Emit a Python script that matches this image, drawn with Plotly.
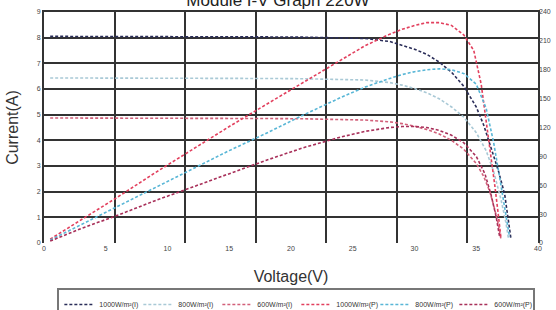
import plotly.graph_objects as go

# ---- data ----
title_text = "Module I-V Graph 220W"
x_ticks = [0, 5, 10, 15, 20, 25, 30, 35, 40]
grid_x = [0, 5, 10, 15, 20, 25, 30, 35]
i_ticks = [0, 1, 2, 3, 4, 5, 6, 7, 8, 9]
p_ticks = [0, 30, 60, 90, 120, 150, 180, 210, 240]

# I-V curves
v_i1000 = [0.5, 3, 6, 9, 12, 15, 18, 21, 24, 26, 28, 29, 30, 31, 32, 33, 34, 35, 35.6, 36.2, 36.8, 37.3, 37.6, 37.8]
i_1000 = [8.05, 8.05, 8.05, 8.05, 8.04, 8.04, 8.03, 8.02, 8.0, 7.97, 7.85, 7.7, 7.55, 7.35, 7.05, 6.65, 6.1, 5.3, 4.6, 3.7, 2.8, 1.9, 0.9, 0.2]
v_i800 = [0.5, 3, 6, 9, 12, 15, 18, 21, 24, 26, 28, 29, 30, 31, 32, 33, 34, 35, 35.8, 36.4, 37.0, 37.4, 37.6]
i_800 = [6.43, 6.43, 6.43, 6.43, 6.42, 6.42, 6.41, 6.40, 6.38, 6.35, 6.25, 6.15, 6.02, 5.85, 5.62, 5.3, 4.9, 4.3, 3.6, 2.8, 1.7, 0.8, 0.2]
v_i600 = [0.5, 3, 6, 9, 12, 15, 18, 21, 24, 26, 28, 29, 30, 31, 32, 33, 34, 35, 35.6, 36.1, 36.5, 36.8, 37.0]
i_600 = [4.87, 4.87, 4.87, 4.87, 4.86, 4.86, 4.85, 4.84, 4.82, 4.79, 4.72, 4.65, 4.55, 4.42, 4.25, 4.0, 3.65, 3.1, 2.6, 2.0, 1.3, 0.7, 0.15]

# P-V curves
v_p1000 = [0.5, 3, 6, 9, 12, 15, 18, 21, 24, 26, 28, 29, 30, 31, 32, 33, 34, 34.8, 35.4, 35.8, 36.2, 36.5, 36.8, 37.0]
p_1000 = [4, 24, 48, 73, 97, 121, 144, 167, 190, 205, 217, 222, 226, 229, 229, 226, 216, 200, 165, 128, 90, 60, 28, 5]
v_p800 = [0.5, 3, 6, 9, 12, 15, 18, 21, 24, 26, 28, 29, 30, 31, 32, 33, 34, 35, 35.8, 36.4, 37.0, 37.4, 37.7]
p_800 = [3, 19, 38, 57, 77, 96, 114, 133, 151, 162, 171, 175, 178, 180, 181, 180, 176, 165, 140, 105, 60, 30, 6]
v_p600 = [0.5, 3, 6, 9, 12, 15, 18, 21, 24, 26, 28, 29, 30, 31, 32, 33, 34, 35, 35.7, 36.2, 36.6, 36.9]
p_600 = [2, 15, 29, 44, 58, 72, 86, 99, 110, 116, 120, 121, 121, 120, 117, 112, 104, 90, 72, 50, 28, 6]

names = ["1000W/m²(I)", "800W/m²(I)", "600W/m²(I)",
         "1000W/m²(P)", "800W/m²(P)", "600W/m²(P)"]
colors = ["#2a2d58", "#a9c9d6", "#d2607a", "#e2405e", "#58b6d6", "#a8305a"]

GRID = "#333333"
FONT = "Liberation Sans, Arial, sans-serif"

fig = go.Figure()
dash = "3px,2px"
for vx, vy, nm, col in [(v_i1000, i_1000, names[0], colors[0]),
                        (v_i800, i_800, names[1], colors[1]),
                        (v_i600, i_600, names[2], colors[2])]:
    fig.add_trace(go.Scatter(x=vx, y=vy, name=nm, mode="lines",
                             line=dict(color=col, width=1.6, dash=dash),
                             xaxis="x", yaxis="y"))
for vx, vy, nm, col in [(v_p1000, p_1000, names[3], colors[3]),
                        (v_p800, p_800, names[4], colors[4]),
                        (v_p600, p_600, names[5], colors[5])]:
    fig.add_trace(go.Scatter(x=vx, y=vy, name=nm, mode="lines",
                             line=dict(color=col, width=1.6, dash=dash),
                             xaxis="x", yaxis="y2"))
# grid-only subplot
fig.add_trace(go.Scatter(x=[], y=[], xaxis="x3", yaxis="y3", showlegend=False,
                         hoverinfo="skip"))

tickfont = dict(family=FONT, size=7, color="#444")
fig.update_layout(
    width=556, height=310,
    margin=dict(l=44, r=18, t=12, b=67, autoexpand=False),
    paper_bgcolor="white", plot_bgcolor="white",
    font=dict(family=FONT, color="#333"),
    title=dict(text=title_text, x=0.5, xanchor="center", xref="container",
               y=1.0, yref="container", yanchor="middle",
               font=dict(family=FONT, size=17, color="#222")),
    xaxis=dict(range=[0, 40], tickvals=x_ticks, showgrid=False, zeroline=False,
               showline=False, ticks="", tickfont=tickfont, automargin=False,
               title=dict(text="Voltage(V)", font=dict(family=FONT, size=16, color="#333"), standoff=19)),
    xaxis3=dict(range=[0, 35], tickvals=grid_x, overlaying="x", side="top",
                showgrid=True, gridcolor=GRID, gridwidth=2, showticklabels=False,
                zeroline=False, showline=True, linecolor=GRID, linewidth=2, ticks="",
                automargin=False),
    yaxis=dict(range=[0, 9], tickvals=i_ticks, showgrid=False, zeroline=False,
               showline=True, mirror=True, linecolor=GRID, linewidth=2, ticks="",
               tickfont=tickfont, automargin=False,
               title=dict(text="Current(A)", font=dict(family=FONT, size=16, color="#333"), standoff=14)),
    yaxis2=dict(range=[0, 240], tickvals=p_ticks, overlaying="y", side="right",
                showgrid=False, zeroline=False, showline=False, ticks="", tickfont=tickfont,
                automargin=False),
    yaxis3=dict(range=[0, 9], tickvals=i_ticks[1:], overlaying="y", anchor="x3",
                showgrid=True, gridcolor=GRID, gridwidth=2, showticklabels=False,
                zeroline=False, showline=False, ticks="", automargin=False),
    legend=dict(orientation="h", xref="container", yref="container",
                x=0.533, xanchor="center", y=1 - 288 / 310, yanchor="top",
                bordercolor="#777", borderwidth=2, bgcolor="white",
                font=dict(family=FONT, size=7, color="#333"),
                itemwidth=30, entrywidth=34, entrywidthmode="pixels", tracegroupgap=0),
)
fig.write_html("out.html", config={"displayModeBar": False},
               post_script="document.body.style.margin='0';document.body.style.overflow='hidden';")
